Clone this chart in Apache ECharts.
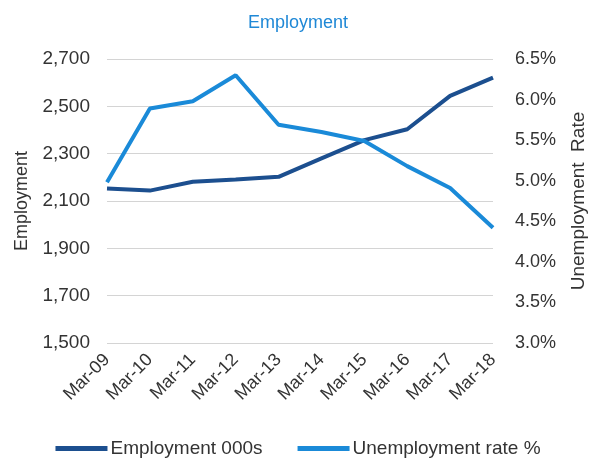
<!DOCTYPE html>
<html><head><meta charset="utf-8">
<script src="https://cdn.jsdelivr.net/npm/echarts@6/dist/echarts.min.js"></script>
<style>html,body{margin:0;padding:0;background:#fff}#c{width:596px;height:461px}</style>
</head><body><div id="c"></div>
<script>
var categories = ['Mar-09','Mar-10','Mar-11','Mar-12','Mar-13','Mar-14','Mar-15','Mar-16','Mar-17','Mar-18'];
var employment = [2153, 2144, 2181, 2191, 2202, 2280, 2357, 2403, 2544, 2621];
var unemployment = [4.98, 5.89, 5.98, 6.30, 5.69, 5.60, 5.49, 5.18, 4.91, 4.42];
var leftTicks = {min: 1500, max: 2700, interval: 200};
var rightTicks = {min: 3.0, max: 6.5, interval: 0.5};

var chart = echarts.init(document.getElementById('c'));
var txt = '#333333';
var ff = 'Liberation Sans';
chart.setOption({
  animation: false,
  title: {text: 'Employment', left: 'center', top: 9,
    textStyle: {color: '#1f88d6', fontSize: 18, fontWeight: 'normal', fontFamily: ff}},
  grid: {left: 107, right: 101, top: 59, bottom: 118},
  legend: {top: 434, left: 'center', itemWidth: 52, itemHeight: 5, itemGap: 35, icon: 'rect',
    textStyle: {color: txt, fontSize: 19, fontFamily: ff, padding: [0, 0, 0, -2]},
    data: ['Employment 000s', 'Unemployment rate %']},
  xAxis: {type: 'category', data: categories, boundaryGap: false,
    axisLine: {show: false}, axisTick: {show: false},
    axisLabel: {rotate: 45, color: txt, fontSize: 18, fontFamily: ff, margin: 14}},
  yAxis: [
    {type: 'value', min: leftTicks.min, max: leftTicks.max, interval: leftTicks.interval,
      name: 'Employment', nameLocation: 'middle', nameGap: 76,
      nameTextStyle: {color: txt, fontSize: 18, fontFamily: ff},
      axisLine: {show: false}, axisTick: {show: false},
      axisLabel: {color: txt, fontSize: 19, fontFamily: ff, margin: 17,
        formatter: function (v) { return v.toLocaleString('en-US'); }},
      splitLine: {lineStyle: {color: '#d4d4d4', width: 1}}},
    {type: 'value', min: rightTicks.min, max: rightTicks.max, interval: rightTicks.interval,
      name: 'Unemployment  Rate', nameLocation: 'middle', nameGap: 76,
      nameTextStyle: {color: txt, fontSize: 19, fontFamily: ff},
      axisLine: {show: false}, axisTick: {show: false}, splitLine: {show: false},
      axisLabel: {color: txt, fontSize: 18, fontFamily: ff, margin: 22,
        formatter: function (v) { return v.toFixed(1) + '%'; }}}
  ],
  series: [
    {name: 'Employment 000s', type: 'line', yAxisIndex: 0, data: employment,
      symbol: 'none', lineStyle: {width: 4, color: '#1c4f8f'}, itemStyle: {color: '#1c4f8f'}},
    {name: 'Unemployment rate %', type: 'line', yAxisIndex: 1, data: unemployment,
      symbol: 'none', lineStyle: {width: 4, color: '#1a8ad8'}, itemStyle: {color: '#1a8ad8'}}
  ]
});
</script></body></html>
